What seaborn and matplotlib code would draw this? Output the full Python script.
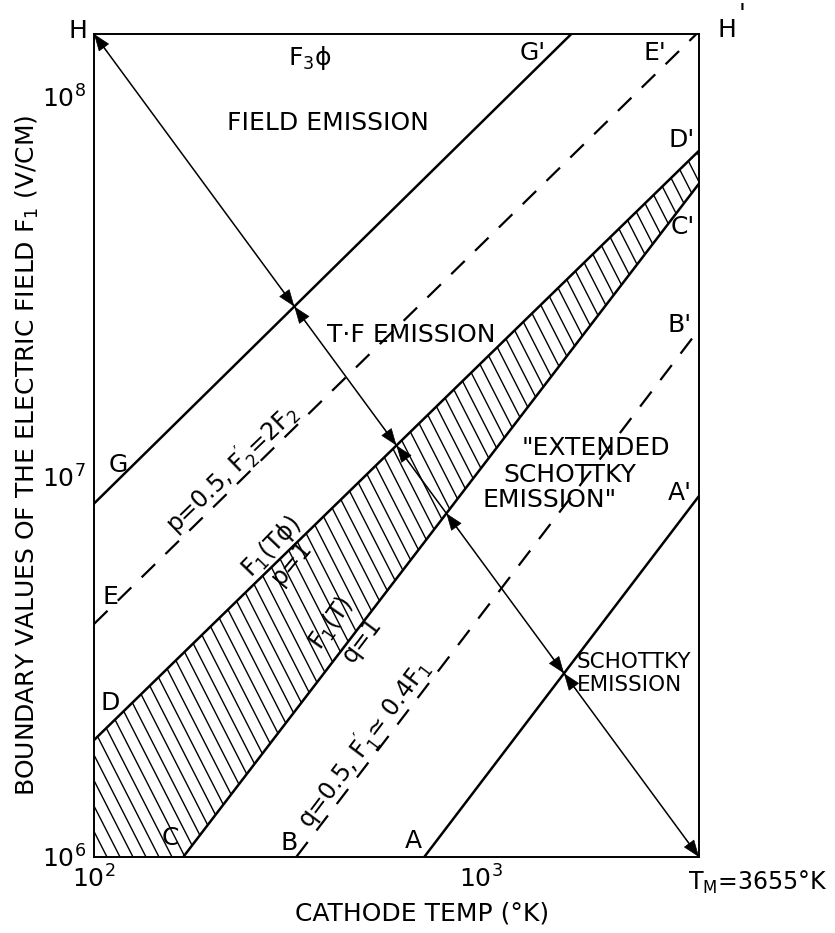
import numpy as np
import pandas as pd
import matplotlib
matplotlib.use("Agg")
import matplotlib.pyplot as plt
import seaborn as sns
from matplotlib.collections import LineCollection

# ---------------- data ----------------
T_RANGE = [100, 3655]          # cathode temperature (K)
F_RANGE = [1.0e6, 1.46e8]      # field (V/cm)

G_T = [100, 1710];  G_F = [8.5e6, 1.46e8]     # F3 phi boundary
E_T = [100, 3600];  E_F = [4.1e6, 1.46e8]     # p=0.5 (dashed)
D_T = [100, 3655];  D_F = [2.03e6, 7.2e7]     # F1(T phi), p=1
C_T = [170, 3655];  C_F = [1.0e6, 5.9e7]      # F1(T), q=1
B_T = [333, 3655];  B_F = [1.0e6, 2.44e7]     # q=0.5 (dashed)
A_T = [713, 3655];  A_F = [1.0e6, 8.9e6]      # Schottky boundary
H_T = [100, 3655];  H_F = [1.46e8, 1.0e6]     # path H -> T_M

X_TICKS = [100, 1000, 2000]
X_TICK_LABELS = ["$10^2$", "$10^3$", ""]
Y_TICKS = [1e6, 1e7, 1e8]
Y_TICK_LABELS = ["$10^6$", "$10^7$", "$10^8$"]

# ---------------- figure ----------------
sns.set_theme(style="white")
plt.rcParams["font.family"] = ["DejaVu Sans"]
plt.rcParams["mathtext.default"] = "regular"

W, H = 835, 933
fig = plt.figure(figsize=(W / 100, H / 100), dpi=100)
L, R, TOP, BOT = 94, 699, 34, 857
ax = fig.add_axes([L / W, 1 - BOT / H, (R - L) / W, (BOT - TOP) / H])
ax.set_xscale("log")
ax.set_yscale("log")

lines = pd.DataFrame({
    "T": G_T + E_T + D_T + C_T + B_T + A_T,
    "F": G_F + E_F + D_F + C_F + B_F + A_F,
    "name": ["G"] * 2 + ["E"] * 2 + ["D"] * 2 + ["C"] * 2 + ["B"] * 2 + ["A"] * 2,
})
solid = lines[lines["name"].isin(["G", "D", "C", "A"])]
dashed = lines[lines["name"].isin(["E", "B"])]
for nm, sub in solid.groupby("name"):
    sns.lineplot(data=sub, x="T", y="F", ax=ax, color="black", lw=1.8,
                 estimator=None, sort=False)
for nm, sub in dashed.groupby("name"):
    sns.lineplot(data=sub, x="T", y="F", ax=ax, color="black", lw=1.6,
                 estimator=None, sort=False, dashes=False,
                 linestyle=(0, (8.5, 6.5)))
sns.lineplot(x=H_T, y=H_F, ax=ax, color="black", lw=1.1,
             estimator=None, sort=False)

ax.set_xlim(T_RANGE)
ax.set_ylim(F_RANGE)

# ---------------- hatched band between D-D' and C-C' ----------------
poly_T = [D_T[0], D_T[1], C_T[1], C_T[0], T_RANGE[0]]
poly_F = [D_F[0], D_F[1], C_F[1], C_F[0], F_RANGE[0]]
band = ax.fill(poly_T, poly_F, facecolor="none", edgecolor="none")[0]
wp, hp = R - L, BOT - TOP
ang = np.deg2rad(63)
step = 13.0
offs = np.arange(0, wp + hp / np.tan(ang) + step, step)
segs = [[(c / wp, 0.0), ((c - hp / np.tan(ang)) / wp, 1.0)] for c in offs]
lc = LineCollection(segs, transform=ax.transAxes, colors="black", linewidths=1.0)
ax.add_collection(lc, autolim=False)
lc.set_clip_path(band)

# ---------------- arrows on the H line ----------------
def _lin(Ts, Fs):
    x0, x1 = np.log10(Ts); y0, y1 = np.log10(Fs)
    m = (y1 - y0) / (x1 - x0)
    return m, y0 - m * x0

mh, bh = _lin(H_T, H_F)

def _cross(Ts, Fs):
    m, b = _lin(Ts, Fs)
    return (b - bh) / (mh - m)

def _arrow(lx_tip, side):
    d = 0.035 if side == "after" else -0.035
    lx_s = lx_tip + d
    tip = (10 ** lx_tip, 10 ** (mh * lx_tip + bh))
    st = (10 ** lx_s, 10 ** (mh * lx_s + bh))
    ax.annotate("", xy=tip, xytext=st,
                arrowprops=dict(arrowstyle="-|>,head_length=0.75,head_width=0.28",
                                mutation_scale=15, color="black", lw=0.5,
                                shrinkA=0, shrinkB=0))

for Ts, Fs, sides in [(G_T, G_F, ["before", "after"]),
                      (D_T, D_F, ["before", "after"]),
                      (C_T, C_F, ["after"]),
                      (A_T, A_F, ["before", "after"])]:
    lx = _cross(Ts, Fs)
    for s in sides:
        _arrow(lx, s)
_arrow(np.log10(H_T[0]), "after")
_arrow(np.log10(H_T[1]), "before")

# ---------------- axes styling ----------------
ax.set_xticks(X_TICKS)
ax.set_xticklabels(X_TICK_LABELS)
ax.set_yticks(Y_TICKS)
ax.set_yticklabels(Y_TICK_LABELS)
ax.minorticks_off()
ax.tick_params(direction="in", length=9, width=1.2, labelsize=18,
               colors="black", pad=6)
for sp in ax.spines.values():
    sp.set_color("black")
    sp.set_linewidth(1.4)

ax.set_xlabel("CATHODE TEMP (°K)", fontsize=18, color="black")
ax.xaxis.set_label_coords((422 - L) / wp, (BOT - 913) / hp)
ax.xaxis.label.set_va("center")
ax.set_ylabel("BOUNDARY VALUES OF THE ELECTRIC FIELD F$_1$ (V/CM)",
              fontsize=18, color="black")
ax.yaxis.set_label_coords((27 - L) / wp, (BOT - 455) / hp)
ax.yaxis.label.set_va("center")

# ---------------- annotations ----------------
def t(x, y, s, ha="center", rot=0, size=18):
    fig.text(x / W, 1 - y / H, s, ha=ha, va="center", rotation=rot,
             rotation_mode="anchor", fontsize=size, color="black")

t(78, 31, "H")
t(727, 30, "H")
t(742, 14, "'")
t(310, 58, r"F$_3$ϕ")
t(227, 123, "FIELD EMISSION", ha="left")
t(533, 53, "G'")
t(655, 53, "E'")
t(682, 140, "D'")
t(683, 227, "C'")
t(680, 325, "B'")
t(680, 493, "A'")
t(327, 335, "T·F EMISSION", ha="left")
t(118, 465, "G")
t(110, 597, "E")
t(110, 703, "D")
t(170, 838, "C")
t(289, 843, "B")
t(413, 841, "A")
t(522, 448, '"EXTENDED', ha="left")
t(503, 475, "SCHOTTKY", ha="left")
t(482, 500, 'EMISSION"', ha="left")
t(577, 662, "SCHOTTKY", ha="left", size=15.5)
t(577, 685, "EMISSION", ha="left", size=15.5)
t(233, 470, r"p=0.5, F$_2^{\prime}$=2F$_2$", rot=44, size=17)
t(271, 547, r"F$_1$(Tϕ)", rot=46, size=17)
t(292, 562, "p=1", rot=50, size=17)
t(331, 624, r"F$_1$(T)", rot=55, size=17)
t(362, 640, "q=1", rot=53, size=17)
t(365, 745, r"q=0.5, F$_1^{\prime}$≃ 0.4F$_1$", rot=53, size=17)
t(688, 882, r"T$_M$=3655°K", ha="left", size=17)

fig.savefig("out.png", dpi=100)
